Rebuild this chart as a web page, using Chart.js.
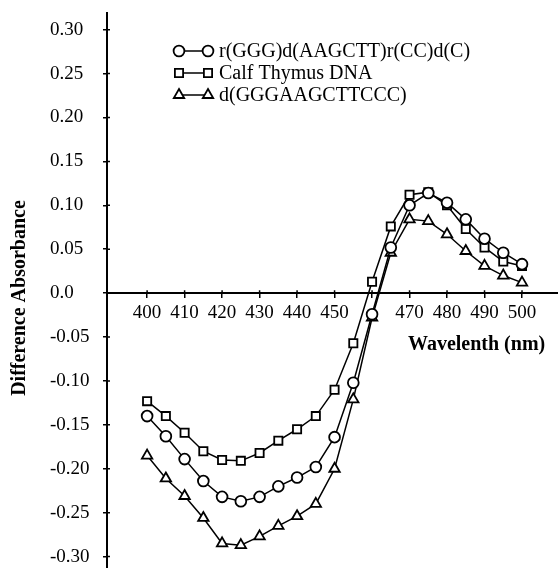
<!DOCTYPE html>
<html lang="en">
<head>
<meta charset="UTF-8">
<title>Difference Absorbance</title>
<script src="https://cdn.jsdelivr.net/npm/chart.js"></script>
<style>
  html, body { margin: 0; padding: 0; background: #fff; overflow: hidden; }
  canvas { display: block; }
</style>
</head>
<body>
<canvas id="cdChart" width="558" height="568"></canvas>
<script>
// wavelengths (nm)
const wavelengths = [400, 405, 410, 415, 420, 425, 430, 435, 440, 445, 450,
                     455, 460, 465, 470, 475, 480, 485, 490, 495, 500];

// r(GGG)d(AAGCTT)r(CC)d(C)
const hybridVals = [-0.140, -0.163, -0.189, -0.214, -0.232, -0.237, -0.232, -0.220, -0.210, -0.198, -0.164,
                    -0.102, -0.024, 0.052, 0.100, 0.114, 0.103, 0.084, 0.062, 0.046, 0.033];
// Calf Thymus DNA
const calfVals = [-0.123, -0.140, -0.159, -0.180, -0.190, -0.191, -0.182, -0.168, -0.155, -0.140, -0.110,
                  -0.057, 0.013, 0.076, 0.112, 0.115, 0.100, 0.073, 0.052, 0.036, 0.031];
// d(GGGAAGCTTCCC)
const dnaVals = [-0.185, -0.211, -0.231, -0.256, -0.285, -0.287, -0.277, -0.265, -0.254, -0.240, -0.200,
                 -0.121, -0.028, 0.046, 0.084, 0.082, 0.067, 0.048, 0.031, 0.020, 0.012];

const seriesNames = ['r(GGG)d(AAGCTT)r(CC)d(C)', 'Calf Thymus DNA', 'd(GGGAAGCTTCCC)'];
const seriesShapes = ['circle', 'rect', 'triangle'];

const xTicks = [400, 410, 420, 430, 440, 450, 460, 470, 480, 490, 500];
const yTicks = [-0.30, -0.25, -0.20, -0.15, -0.10, -0.05, 0, 0.05, 0.10, 0.15, 0.20, 0.25, 0.30];

const FONT = "'Liberation Serif', 'Times New Roman', serif";

function toPoints(vals) {
  return wavelengths.map((w, i) => ({ x: w, y: vals[i] }));
}

const radii = { circle: 5.4, rect: 5.8, triangle: 6 };

function makeSet(label, vals, shape) {
  return {
    label: label,
    data: toPoints(vals),
    borderColor: '#000',
    borderWidth: 1.5,
    pointStyle: shape,
    pointRadius: radii[shape],
    pointBackgroundColor: '#fff',
    pointBorderColor: '#000',
    pointBorderWidth: 1.8,
    tension: 0,
    fill: false
  };
}

// draw one marker for the hand made legend
function marker(ctx, shape, x, y, r) {
  ctx.beginPath();
  if (shape === 'circle') {
    ctx.arc(x, y, r, 0, Math.PI * 2);
  } else if (shape === 'rect') {
    const s = r * Math.SQRT1_2;
    ctx.rect(x - s, y - s, 2 * s, 2 * s);
  } else {
    const a = 2 * Math.PI / 3;
    ctx.moveTo(x, y - r);
    ctx.lineTo(x + Math.sin(a) * r, y - Math.cos(a) * r);
    ctx.lineTo(x + Math.sin(2 * a) * r, y - Math.cos(2 * a) * r);
    ctx.closePath();
  }
  ctx.fillStyle = '#fff';
  ctx.fill();
  ctx.stroke();
}

const annotations = {
  id: 'annotations',
  beforeDatasetsDraw(chart) {
    // the other half of the tick marks, so they cross the axes
    const ctx = chart.ctx;
    const xs = chart.scales.x, ys = chart.scales.y;
    const y0 = ys.getPixelForValue(0);
    const x0 = chart.chartArea.left;
    ctx.save();
    ctx.strokeStyle = '#000';
    ctx.lineWidth = 1.5;
    ctx.beginPath();
    xTicks.forEach(v => {
      const px = xs.getPixelForValue(v);
      ctx.moveTo(px, y0 - 3);
      ctx.lineTo(px, y0);
    });
    yTicks.forEach(v => {
      const py = ys.getPixelForValue(v);
      ctx.moveTo(x0, py);
      ctx.lineTo(x0 + 3, py);
    });
    ctx.stroke();
    ctx.restore();
  },
  afterDraw(chart) {
    const ctx = chart.ctx;
    ctx.save();
    ctx.strokeStyle = '#000';
    ctx.fillStyle = '#000';

    // legend
    const rows = [51, 73, 95];
    seriesNames.forEach((name, i) => {
      const y = rows[i];
      ctx.lineWidth = 1.5;
      ctx.beginPath();
      ctx.moveTo(179, y);
      ctx.lineTo(208, y);
      ctx.stroke();
      ctx.lineWidth = 1.8;
      marker(ctx, seriesShapes[i], 179, y, radii[seriesShapes[i]]);
      marker(ctx, seriesShapes[i], 208, y, radii[seriesShapes[i]]);
      ctx.fillStyle = '#000';
      ctx.font = '20px ' + FONT;
      ctx.textAlign = 'left';
      ctx.textBaseline = 'middle';
      ctx.fillText(name, 219, y + 1);
    });

    // axis titles
    ctx.font = 'bold 20px ' + FONT;
    ctx.textAlign = 'left';
    ctx.textBaseline = 'middle';
    ctx.fillText('Wavelenth (nm)', 408, 345);

    ctx.translate(20, 298);
    ctx.rotate(-Math.PI / 2);
    ctx.textAlign = 'center';
    ctx.fillText('Difference Absorbance', 0, 0);
    ctx.restore();
  }
};

new Chart(document.getElementById('cdChart'), {
  type: 'line',
  data: {
    datasets: [
      makeSet(seriesNames[0], hybridVals, 'circle'),
      makeSet(seriesNames[1], calfVals, 'rect'),
      makeSet(seriesNames[2], dnaVals, 'triangle')
    ]
  },
  options: {
    responsive: false,
    animation: false,
    layout: { autoPadding: false, padding: { top: 13, right: 0, bottom: 0, left: 50 } },
    plugins: {
      legend: { display: false },
      tooltip: { enabled: false }
    },
    scales: {
      x: {
        type: 'linear',
        position: { y: 0 },
        min: 389.3,
        max: 509.6,
        afterBuildTicks: s => { s.ticks = xTicks.map(v => ({ value: v })); },
        afterFit: s => { s.paddingLeft = 0; s.paddingRight = 0; },
        grid: { drawOnChartArea: false, drawTicks: true, tickLength: 4, color: '#000', lineWidth: 1.5 },
        border: { display: true, color: '#000', width: 2 },
        ticks: {
          color: '#000',
          padding: 4,
          maxRotation: 0,
          autoSkip: false,
          font: { family: FONT, size: 19 },
          callback: v => (v === 460 ? '' : String(v))
        }
      },
      y: {
        type: 'linear',
        min: -0.313,
        max: 0.319,
        afterBuildTicks: s => { s.ticks = yTicks.map(v => ({ value: v })); },
        afterFit: s => { s.width = 57; s.paddingTop = 0; s.paddingBottom = 0; },
        grid: { drawOnChartArea: false, drawTicks: true, tickLength: 4, color: '#000', lineWidth: 1.5 },
        border: { display: true, color: '#000', width: 2 },
        ticks: {
          color: '#000',
          padding: 8,
          crossAlign: 'far',
          autoSkip: false,
          font: { family: FONT, size: 19 },
          callback: v => (Math.abs(v) < 1e-9 ? '0.0' : v.toFixed(2))
        }
      }
    }
  },
  plugins: [annotations]
});
</script>
</body>
</html>
